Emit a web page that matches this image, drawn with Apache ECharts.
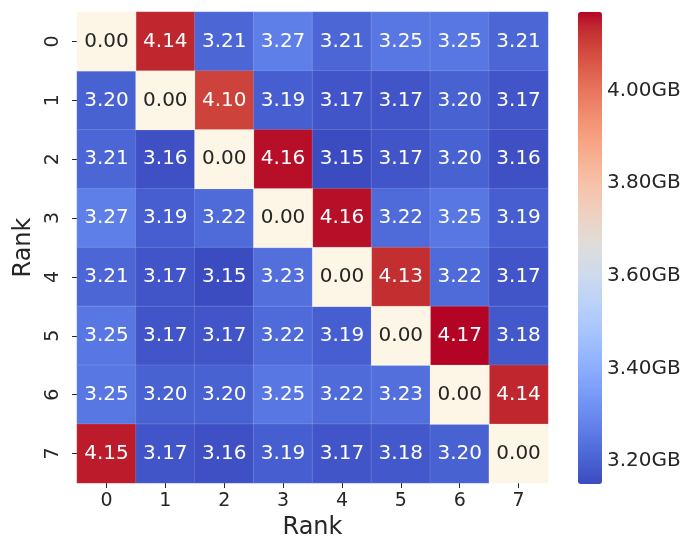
<!DOCTYPE html>
<html>
<head>
<meta charset="utf-8">
<script src="https://cdn.jsdelivr.net/npm/echarts@6/dist/echarts.min.js"></script>
<style>
  html, body { margin: 0; padding: 0; background: #ffffff; }
  #chart { width: 682px; height: 538px; }
</style>
</head>
<body>
<div id="chart"></div>
<script>
// Rank labels for both axes
const ranks = ['0', '1', '2', '3', '4', '5', '6', '7'];

// Per-rank transfer sizes (GB), one array per source rank (row)
const rank0 = [0.00, 4.14, 3.21, 3.27, 3.21, 3.25, 3.25, 3.21];
const rank1 = [3.20, 0.00, 4.10, 3.19, 3.17, 3.17, 3.20, 3.17];
const rank2 = [3.21, 3.16, 0.00, 4.16, 3.15, 3.17, 3.20, 3.16];
const rank3 = [3.27, 3.19, 3.22, 0.00, 4.16, 3.22, 3.25, 3.19];
const rank4 = [3.21, 3.17, 3.15, 3.23, 0.00, 4.13, 3.22, 3.17];
const rank5 = [3.25, 3.17, 3.17, 3.22, 3.19, 0.00, 4.17, 3.18];
const rank6 = [3.25, 3.20, 3.20, 3.25, 3.22, 3.23, 0.00, 4.14];
const rank7 = [4.15, 3.17, 3.16, 3.19, 3.17, 3.18, 3.20, 0.00];
const rows = [rank0, rank1, rank2, rank3, rank4, rank5, rank6, rank7];

// Colour bar range and ticks
const colorMin = 3.15;
const colorMax = 4.17;
const colorTicks = [3.20, 3.40, 3.60, 3.80, 4.00];

// coolwarm colormap stops
const coolwarm = [
  '#3b4cc0', '#445acc', '#4d68d7', '#5775e1', '#6282ea', '#6c8ef1', '#779af7', '#82a5fb',
  '#8db0fe', '#98b9ff', '#a3c2ff', '#aec9fd', '#b8d0f9', '#c2d5f4', '#ccd9ee', '#d5dbe6',
  '#dddddd', '#e5d8d1', '#ecd3c5', '#f1ccb9', '#f5c4ad', '#f7bba0', '#f7b194', '#f7a687',
  '#f49a7b', '#f18d6f', '#ec7f63', '#e57058', '#de604d', '#d55042', '#cb3e38', '#c0282f',
  '#b40426'
];

const FONT = 'DejaVu Sans';
const TEXT = '#262626';
const SELF_COLOR = '#fdf5e6';

// Off-diagonal cells are coloured by the colour map; self-transfer (zero) cells are drawn plainly
const transferCells = [];
const selfCells = [];
rows.forEach((row, r) => {
  row.forEach((v, c) => {
    if (v === 0) {
      selfCells.push([c, r, v]);
    } else {
      transferCells.push([c, r, v]);
    }
  });
});

const cellBorder = { borderColor: 'rgba(255,255,255,0.22)', borderWidth: 0.6 };
const cellLabel = {
  show: true,
  fontFamily: FONT,
  fontSize: 20,
  formatter: (p) => p.value[2].toFixed(2)
};

const chart = echarts.init(document.getElementById('chart'), null, { renderer: 'canvas' });

chart.setOption({
  animation: false,
  backgroundColor: '#ffffff',
  textStyle: { fontFamily: FONT },
  grid: [
    { left: 77, top: 12, width: 471, height: 471, outerBoundsMode: 'none', containLabel: false },
    { left: 578, top: 12, width: 24, height: 472, outerBoundsMode: 'none', containLabel: false }
  ],
  xAxis: [
    {
      gridIndex: 0,
      type: 'category',
      data: ranks,
      position: 'bottom',
      name: 'Rank',
      nameLocation: 'middle',
      nameGap: 32,
      nameTextStyle: { fontFamily: FONT, fontSize: 24, color: TEXT },
      axisLine: { show: false },
      axisTick: { show: true, alignWithLabel: true, length: 5, lineStyle: { color: TEXT, width: 1 } },
      axisLabel: { fontFamily: FONT, fontSize: 19, color: TEXT, margin: 9 },
      splitLine: { show: false }
    },
    {
      gridIndex: 1,
      type: 'value',
      show: false,
      min: 0,
      max: 1
    }
  ],
  yAxis: [
    {
      gridIndex: 0,
      type: 'category',
      data: ranks,
      inverse: true,
      name: 'Rank',
      nameLocation: 'middle',
      nameGap: 38,
      nameRotate: 90,
      nameTextStyle: { fontFamily: FONT, fontSize: 24, color: TEXT },
      axisLine: { show: false },
      axisTick: { show: true, alignWithLabel: true, length: 5, lineStyle: { color: TEXT, width: 1 } },
      axisLabel: { fontFamily: FONT, fontSize: 19, color: TEXT, rotate: 90, margin: 14 },
      splitLine: { show: false }
    },
    {
      gridIndex: 1,
      type: 'value',
      position: 'right',
      min: colorMin,
      max: colorMax,
      axisLine: { show: false },
      splitLine: { show: false },
      axisTick: {
        show: true,
        length: 4,
        customValues: colorTicks,
        lineStyle: { color: TEXT, width: 1 }
      },
      axisLabel: {
        fontFamily: FONT,
        fontSize: 20,
        color: TEXT,
        margin: 5,
        customValues: colorTicks,
        formatter: (v) => v.toFixed(2) + 'GB'
      }
    }
  ],
  visualMap: {
    type: 'continuous',
    seriesIndex: 0,
    min: colorMin,
    max: colorMax,
    left: 578,
    top: 12,
    itemWidth: 24,
    itemHeight: 472,
    padding: 0,
    calculable: false,
    showLabel: false,
    text: null,
    hoverLink: false,
    inRange: { color: coolwarm }
  },
  series: [
    {
      type: 'heatmap',
      xAxisIndex: 0,
      yAxisIndex: 0,
      data: transferCells,
      itemStyle: cellBorder,
      label: Object.assign({ color: '#ffffff' }, cellLabel),
      emphasis: { disabled: true }
    },
    {
      type: 'heatmap',
      xAxisIndex: 0,
      yAxisIndex: 0,
      data: selfCells,
      itemStyle: Object.assign({ color: SELF_COLOR }, cellBorder),
      label: Object.assign({ color: TEXT }, cellLabel),
      emphasis: { disabled: true }
    }
  ]
});
</script>
</body>
</html>
